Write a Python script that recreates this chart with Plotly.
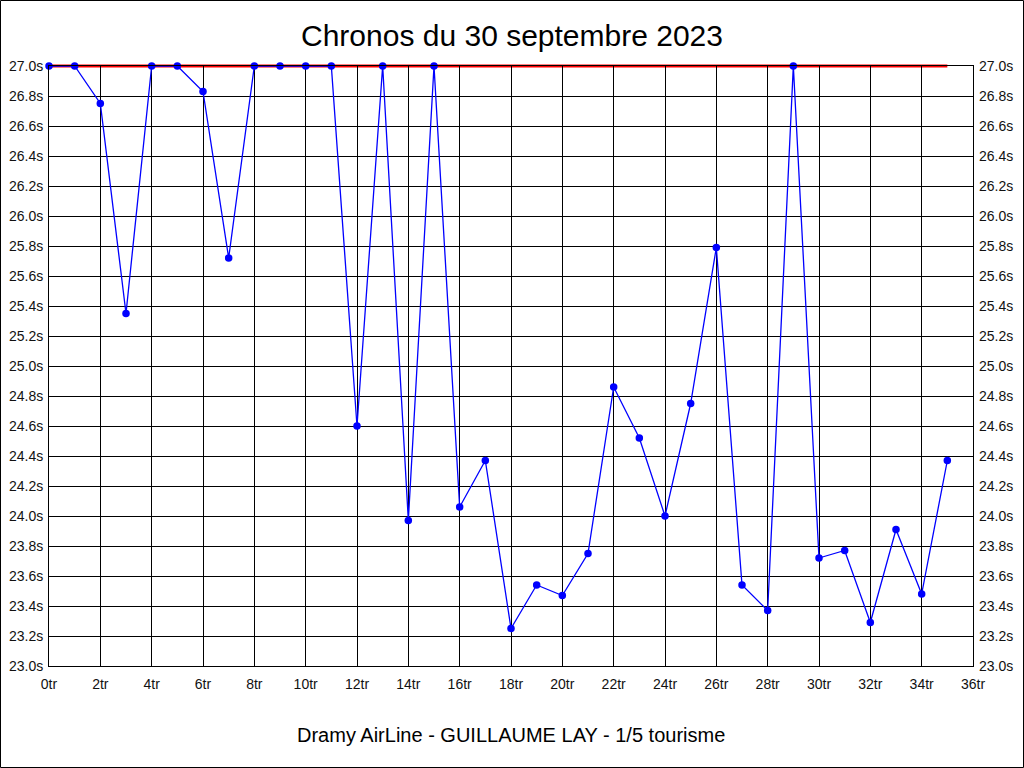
import plotly.graph_objects as go

laps = list(range(36))
times = [27.0, 27.0, 26.75, 25.35, 27.0, 27.0, 26.83, 25.72, 27.0, 27.0,
         27.0, 27.0, 24.6, 27.0, 23.97, 27.0, 24.06, 24.37, 23.25, 23.54,
         23.47, 23.75, 24.86, 24.52, 24.0, 24.75, 25.79, 23.54, 23.37, 27.0,
         23.72, 23.77, 23.29, 23.91, 23.48, 24.37]
ref_line = [27.0, 27.0]
ref_x = [0, 35]

title = "Chronos du 30 septembre 2023"
subtitle = "Dramy AirLine - GUILLAUME LAY - 1/5 tourisme"

x_range = [0, 36]
y_range = [23, 27]

L, R, T, B = 49, 51, 66, 102
W, H = 1024, 768
pw, ph = W - L - R, H - T - B

font = "Liberation Sans, Arial, sans-serif"


def px(v):
    return (v - x_range[0]) / (x_range[1] - x_range[0])


def py(v):
    return (v - y_range[0]) / (y_range[1] - y_range[0])


fig = go.Figure()
fig.add_trace(go.Scatter(x=laps, y=times, mode="lines+markers",
                         line=dict(color="#0000ff", width=1.3),
                         marker=dict(color="#0000ff", size=7.5),
                         cliponaxis=False))
fig.add_trace(go.Scatter(x=[0], y=[23.0], yaxis="y2", mode="markers",
                         marker=dict(opacity=0), hoverinfo="skip"))

axis_common = dict(showgrid=True, gridcolor="black", gridwidth=1,
                   zeroline=False, ticks="", showline=True, linecolor="black",
                   linewidth=1, automargin=False,
                   tickfont=dict(family=font, size=14, color="#111"))

fig.update_layout(
    width=W, height=H,
    margin=dict(l=L, r=R, t=T, b=B, pad=0, autoexpand=False),
    paper_bgcolor="white", plot_bgcolor="white",
    showlegend=False,
    title=dict(text=title, x=0.5, xanchor="center", y=1 - 35 / H, yanchor="middle",
               font=dict(family=font, size=30, color="black")),
    xaxis=dict(range=x_range, dtick=2, tick0=0, ticksuffix="tr", mirror=True,
               ticklabelstandoff=5, **axis_common),
    yaxis=dict(range=y_range, dtick=0.2, tick0=23, tickformat=".1f", ticksuffix="s",
               mirror=True, ticklabelstandoff=2, **axis_common),
    yaxis2=dict(range=y_range, dtick=0.2, tick0=23, tickformat=".1f", ticksuffix="s",
                overlaying="y", side="right", showgrid=False, zeroline=False, ticks="",
                ticklabelstandoff=5, automargin=False,
                tickfont=dict(family=font, size=14, color="#111")),
    annotations=[dict(text=subtitle, xref="paper", yref="paper", x=0.5,
                      y=-(735 - T - ph) / ph, xanchor="center", yanchor="middle",
                      showarrow=False, font=dict(family=font, size=20, color="black"))],
    shapes=[
        dict(type="line", xref="paper", yref="paper",
             x0=px(ref_x[0]), x1=px(ref_x[1]),
             y0=py(ref_line[0]), y1=py(ref_line[1]),
             line=dict(color="#ff0000", width=3), layer="between"),
        dict(type="rect", xref="paper", yref="paper",
             x0=-(L - 0.5) / pw, x1=1 + (R - 0.5) / pw,
             y0=-(B - 0.5) / ph, y1=1 + (T - 0.5) / ph,
             line=dict(color="black", width=1), layer="above"),
    ],
)

fig.write_html("out.html", config={"displayModeBar": False},
               post_script="document.body.style.margin='0';document.body.style.overflow='hidden';")
